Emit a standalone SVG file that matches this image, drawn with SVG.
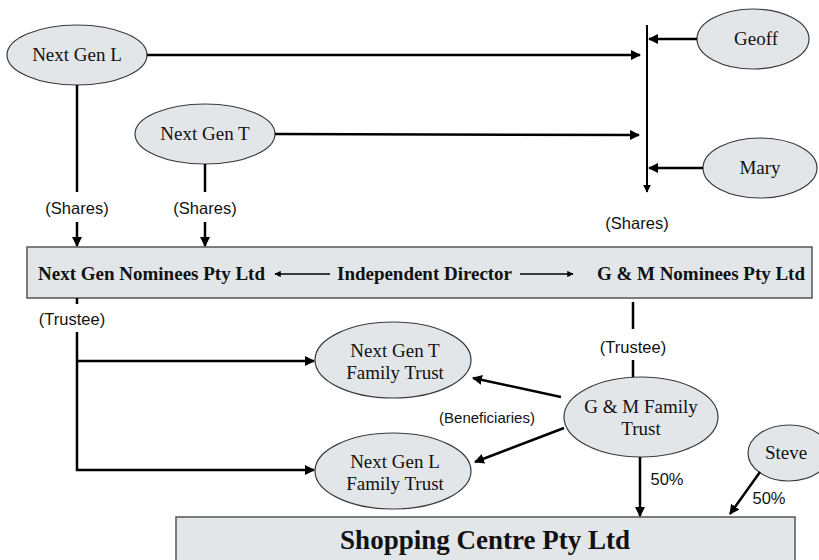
<svg xmlns="http://www.w3.org/2000/svg" width="819" height="560" viewBox="0 0 819 560">
<defs>
<marker id="ah" viewBox="0 0 10 10" refX="9" refY="5" markerWidth="4" markerHeight="4" orient="auto" markerUnits="strokeWidth">
<path d="M0,0 L10,5 L0,10 z" fill="#000"/>
</marker>
<style>
.nd{fill:#e3e6e9;stroke:#3a3a3a;stroke-width:1.2}
.bar{fill:#e3e6e9;stroke:#555;stroke-width:1.5}
.t{font-family:"Liberation Serif","Times New Roman",serif;font-size:19px;fill:#111;text-anchor:middle}
.b{font-family:"Liberation Serif","Times New Roman",serif;font-size:19px;font-weight:bold;fill:#111}
.l{font-family:"Liberation Sans",Arial,sans-serif;font-size:16.5px;fill:#111;text-anchor:middle}
.c{stroke:#000;stroke-width:2.5;fill:none}
.a{stroke:#000;stroke-width:2.5;fill:none;marker-end:url(#ah)}
.a1{stroke:#000;stroke-width:1.6;fill:none;marker-end:url(#ah)}
</style>
</defs>
<rect width="819" height="560" fill="#fff"/>

<g id="next-gen-l">
<ellipse class="nd" cx="77" cy="55" rx="70" ry="30"/>
<text class="t" x="77" y="61">Next Gen L</text>
</g>
<g id="next-gen-t">
<ellipse class="nd" cx="205" cy="134" rx="70" ry="30"/>
<text class="t" x="205" y="140">Next Gen T</text>
</g>
<g id="geoff">
<ellipse class="nd" cx="753" cy="39" rx="56" ry="30"/>
<text class="t" x="756" y="45">Geoff</text>
</g>
<g id="mary">
<ellipse class="nd" cx="760" cy="168" rx="57" ry="30"/>
<text class="t" x="760" y="174">Mary</text>
</g>

<g id="nominees-bar">
<rect class="bar" x="27" y="247" width="785" height="51"/>
<text class="b" x="38" y="280" textLength="227">Next Gen Nominees Pty Ltd</text>
<text class="b" x="337" y="280" textLength="175">Independent Director</text>
<text class="b" x="597" y="280" textLength="208">G &amp; M Nominees Pty Ltd</text>
</g>

<g id="next-gen-t-family-trust">
<ellipse class="nd" cx="393" cy="360" rx="78" ry="38"/>
<text class="t" x="395" y="357">Next Gen T</text>
<text class="t" x="395" y="379">Family Trust</text>
</g>
<g id="next-gen-l-family-trust">
<ellipse class="nd" cx="393" cy="471" rx="78" ry="38"/>
<text class="t" x="395" y="468">Next Gen L</text>
<text class="t" x="395" y="490">Family Trust</text>
</g>
<g id="gm-family-trust">
<ellipse class="nd" cx="641" cy="417" rx="77" ry="40"/>
<text class="t" x="641" y="413">G &amp; M Family</text>
<text class="t" x="641" y="435">Trust</text>
</g>
<g id="steve">
<ellipse class="nd" cx="789" cy="453" rx="41" ry="28"/>
<text class="t" x="786" y="459">Steve</text>
</g>

<g id="shopping-centre">
<rect class="bar" x="176" y="517" width="619" height="60"/>
<text class="b" x="485" y="549" style="font-size:27px;text-anchor:middle">Shopping Centre Pty Ltd</text>
</g>

<g id="connectors">
<line class="a" x1="147" y1="55" x2="640" y2="55"/>
<line class="a" x1="275" y1="134" x2="639" y2="135"/>
<line class="a1" x1="647" y1="25" x2="647" y2="192" style="stroke-width:2"/>
<line class="a" x1="697" y1="39" x2="649" y2="39"/>
<line class="a" x1="703" y1="168" x2="649" y2="168"/>
<line class="c" x1="77" y1="85" x2="77" y2="192"/>
<line class="a" x1="77" y1="222" x2="77" y2="246"/>
<line class="c" x1="205" y1="164" x2="205" y2="192"/>
<line class="a" x1="205" y1="222" x2="205" y2="246"/>
<line class="a1" x1="330" y1="274" x2="275" y2="274"/>
<line class="a1" x1="520" y1="274" x2="573" y2="274"/>
<line class="c" x1="77" y1="298" x2="77" y2="304"/>
<polyline class="c" points="77,332 77,470 314,470" marker-end="url(#ah)"/>
<line class="a" x1="77" y1="361" x2="314" y2="361"/>
<line class="c" x1="633" y1="302" x2="633" y2="329"/>
<line class="c" x1="633" y1="360" x2="633" y2="377"/>
<line class="a" x1="561" y1="397" x2="473" y2="378"/>
<line class="a" x1="564" y1="428" x2="475" y2="462"/>
<line class="a" x1="640" y1="457" x2="640" y2="516"/>
<line class="a" x1="760" y1="472" x2="730" y2="514"/>
</g>

<g id="labels">
<text class="l" x="77" y="214">(Shares)</text>
<text class="l" x="205" y="214">(Shares)</text>
<text class="l" x="637" y="229">(Shares)</text>
<text class="l" x="72" y="325">(Trustee)</text>
<text class="l" x="633" y="353">(Trustee)</text>
<text class="l" x="487" y="423" style="font-size:15px">(Beneficiaries)</text>
<text class="l" x="667" y="485">50%</text>
<text class="l" x="769" y="504">50%</text>
</g>
</svg>
